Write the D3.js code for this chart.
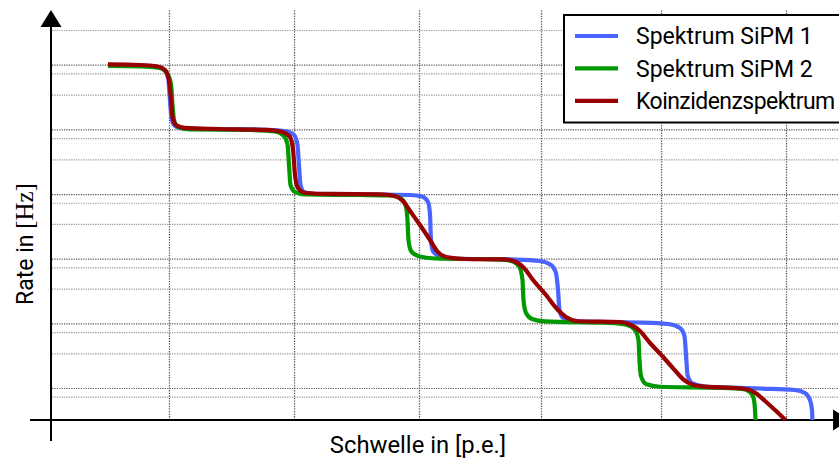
<!DOCTYPE html>
<html>
<head>
<meta charset="utf-8">
<script src="https://cdn.jsdelivr.net/npm/d3@7"></script>
<style>
  body { margin: 0; background: #fff; }
  svg { display: block; }
</style>
</head>
<body>
<svg id="chart" width="839" height="459"></svg>
<script>
// Threshold in photo-electrons (p.e.) and the rate as log10(rate / Hz).
const seriesNames = ["Spektrum SiPM 1", "Spektrum SiPM 2", "Koinzidenzspektrum"];
const seriesColors = ["#4a64ff", "#009a00", "#990000"];

const sipm1Pe = [0.465, 0.727, 0.874, 0.931, 0.959, 0.971, 0.984, 1.004, 1.053, 1.216, 1.706, 1.910, 1.984, 2.012, 2.024, 2.037, 2.065, 2.131, 2.522, 2.931, 3.029, 3.078, 3.094, 3.102, 3.118, 3.176, 3.298, 3.747, 3.992, 4.082, 4.122, 4.139, 4.151, 4.180, 4.278, 4.808, 5.037, 5.135, 5.171, 5.184, 5.196, 5.233, 5.339, 5.788, 6.073, 6.155, 6.196, 6.212, 6.216];
const sipm1Lg = [5.996, 5.988, 5.965, 5.903, 5.764, 5.455, 5.176, 5.068, 5.022, 5.006, 4.998, 4.975, 4.913, 4.759, 4.449, 4.140, 4.032, 4.001, 3.993, 3.985, 3.962, 3.877, 3.676, 3.289, 3.119, 3.034, 3.003, 2.988, 2.964, 2.903, 2.779, 2.516, 2.206, 2.083, 2.029, 2.013, 1.990, 1.928, 1.804, 1.510, 1.201, 1.077, 1.023, 0.992, 0.969, 0.923, 0.814, 0.660, 0.505];

const sipm2Pe = [0.465, 0.727, 0.890, 0.947, 0.980, 0.992, 1.004, 1.037, 1.135, 1.624, 1.829, 1.902, 1.931, 1.943, 1.955, 1.992, 2.073, 2.522, 2.767, 2.849, 2.894, 2.910, 2.918, 2.939, 2.996, 3.135, 3.665, 3.771, 3.824, 3.849, 3.857, 3.878, 3.927, 4.033, 4.563, 4.702, 4.767, 4.796, 4.804, 4.816, 4.857, 4.971, 5.461, 5.641, 5.706, 5.735, 5.747, 5.751];
const sipm2Lg = [5.981, 5.973, 5.950, 5.872, 5.687, 5.377, 5.145, 5.037, 4.998, 4.991, 4.968, 4.898, 4.759, 4.449, 4.140, 4.032, 3.993, 3.985, 3.978, 3.939, 3.831, 3.599, 3.289, 3.119, 3.042, 3.003, 2.988, 2.957, 2.872, 2.671, 2.361, 2.160, 2.067, 2.029, 2.005, 1.974, 1.897, 1.742, 1.433, 1.186, 1.062, 1.019, 1.003, 0.985, 0.938, 0.845, 0.660, 0.505];

const coincPe = [0.465, 0.727, 0.873, 0.931, 0.963, 0.980, 0.992, 1.020, 1.094, 1.380, 1.747, 1.886, 1.951, 1.976, 1.992, 2.016, 2.082, 2.278, 2.686, 2.808, 2.873, 2.931, 3.012, 3.094, 3.151, 3.224, 3.380, 3.706, 3.796, 3.861, 3.935, 4.041, 4.131, 4.204, 4.302, 4.645, 4.727, 4.808, 4.890, 4.971, 5.069, 5.159, 5.233, 5.339, 5.584, 5.690, 5.763, 5.829, 5.910, 5.996];
const coincLg = [6.004, 5.996, 5.973, 5.919, 5.764, 5.455, 5.192, 5.068, 5.022, 5.006, 4.991, 4.960, 4.882, 4.681, 4.295, 4.094, 4.016, 4.001, 3.996, 3.970, 3.892, 3.738, 3.521, 3.289, 3.119, 3.026, 2.995, 2.988, 2.949, 2.856, 2.671, 2.438, 2.222, 2.098, 2.032, 2.021, 1.982, 1.882, 1.696, 1.534, 1.325, 1.139, 1.054, 1.020, 1.000, 0.977, 0.907, 0.799, 0.660, 0.505];

// Grid positions
const gridPe = [0.963, 1.984, 3.004, 4.0, 4.98, 6.0];
const gridLgMajor = [1, 2, 3, 4, 5, 6];
const gridLgMinor = [0.865, 1.537, 1.865, 2.537, 2.865, 3.537, 3.865, 4.537, 4.865, 5.537, 5.865, 6.537];

const svg = d3.select("#chart");
const W = 839;

const x = d3.scaleLinear().domain([0, 6]).range([51, 786]);
const y = d3.scaleLinear().domain([0.505, 6.568]).range([420, 28]);

const gridTopLg = 6.847;

// vertical grid
const gx = svg.append("g")
  .attr("transform", `translate(0,${y(0.505)})`)
  .call(d3.axisBottom(x).tickValues(gridPe).tickFormat("")
    .tickSize(-(y(0.505) - y(gridTopLg))));
gx.select(".domain").remove();
gx.selectAll(".tick line")
  .attr("stroke", "#555").attr("stroke-width", 1.3).attr("stroke-dasharray", "1.3,1.3");

// horizontal grid
function hGrid(values, color) {
  const g = svg.append("g")
    .attr("transform", `translate(${x(0) + 1},0)`)
    .call(d3.axisLeft(y).tickValues(values).tickFormat("").tickSize(-(W - x(0))));
  g.select(".domain").remove();
  g.selectAll(".tick line")
    .attr("stroke", color).attr("stroke-width", 1.2).attr("stroke-dasharray", "1.2,1.2");
}
hGrid(gridLgMinor, "#959595");
hGrid(gridLgMajor, "#555");

// axes with arrow heads
const axisG = svg.append("g");
axisG.append("line")
  .attr("x1", x(-0.171)).attr("x2", x(6.384))
  .attr("y1", y(0.505)).attr("y2", y(0.505))
  .attr("stroke", "#000").attr("stroke-width", 2);
axisG.append("line")
  .attr("x1", x(0)).attr("x2", x(0))
  .attr("y1", y(0.18)).attr("y2", y(6.584))
  .attr("stroke", "#000").attr("stroke-width", 2);
axisG.append("path")
  .attr("d", `M${x(0) - 10.5},${y(6.584)} L${x(0) + 10.5},${y(6.584)} L${x(0)},${y(gridTopLg)} Z`)
  .attr("fill", "#000");
axisG.append("path")
  .attr("d", `M${x(6.384)},${y(0.505) - 10.5} L${x(6.384)},${y(0.505) + 10.5} L${x(6.522)},${y(0.505)} Z`)
  .attr("fill", "#000");

// curves
const seriesData = [
  d3.zip(sipm1Pe, sipm1Lg),
  d3.zip(sipm2Pe, sipm2Lg),
  d3.zip(coincPe, coincLg)
];
const line = d3.line()
  .x(d => x(d[0]))
  .y(d => y(d[1]))
  .curve(d3.curveMonotoneX);

svg.append("g").selectAll("path")
  .data(seriesData)
  .join("path")
  .attr("d", line)
  .attr("fill", "none")
  .attr("stroke", (d, i) => seriesColors[i])
  .attr("stroke-width", 4.2)
  .attr("stroke-linecap", "butt")
  .attr("stroke-linejoin", "round");

// legend
const legend = svg.append("g").attr("transform", "translate(564,15)");
legend.append("rect")
  .attr("x", 0).attr("y", 0).attr("width", 300).attr("height", 107.5)
  .attr("fill", "#fff").attr("stroke", "#000").attr("stroke-width", 2);
const rows = legend.selectAll("g.row").data(seriesNames).join("g")
  .attr("class", "row")
  .attr("transform", (d, i) => `translate(0,${21 + i * 32.4})`);
rows.append("line")
  .attr("x1", 11).attr("x2", 54).attr("y1", 0).attr("y2", 0)
  .attr("stroke", (d, i) => seriesColors[i]).attr("stroke-width", 4.2);
rows.append("text")
  .attr("x", 72).attr("y", 8.4)
  .attr("font-family", "Roboto, sans-serif")
  .attr("font-size", 23)
  .attr("letter-spacing", (d, i) => i === 2 ? -0.55 : 0)
  .attr("fill", "#000")
  .text(d => d);

// axis titles
svg.append("text")
  .attr("x", 418).attr("y", 453)
  .attr("text-anchor", "middle")
  .attr("font-family", "Roboto, sans-serif")
  .attr("font-size", 23.8)
  .text("Schwelle in [p.e.]");

const yt = svg.append("text")
  .attr("transform", "translate(33,244) rotate(-90)")
  .attr("text-anchor", "middle")
  .attr("font-size", 23);
yt.append("tspan").attr("font-family", "Roboto, sans-serif").text("Rate in ");
yt.append("tspan").attr("font-family", "'Liberation Serif', serif").attr("font-size", 25).text("[Hz]");
</script>
</body>
</html>
